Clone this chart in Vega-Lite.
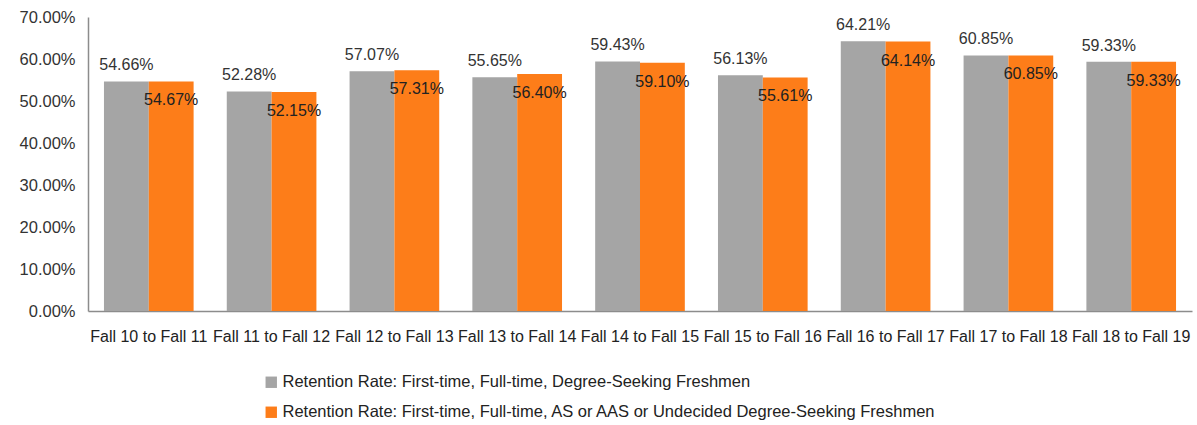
{
  "$schema": "https://vega.github.io/schema/vega-lite/v6.json",
  "width": 1104,
  "height": 294,
  "autosize": "none",
  "padding": {"left": 88, "top": 17, "right": 5, "bottom": 114},
  "background": "white",
  "config": {"view": {"stroke": null}, "font": "Liberation Sans"},
  "data": {"values": [
    {"period": "Fall 10 to Fall 11", "series": "Retention Rate: First-time, Full-time, Degree-Seeking Freshmen", "s": 1, "rate": 0.5466},
    {"period": "Fall 10 to Fall 11", "series": "Retention Rate: First-time, Full-time, AS or AAS or Undecided Degree-Seeking Freshmen", "s": 2, "rate": 0.5467},
    {"period": "Fall 11 to Fall 12", "series": "Retention Rate: First-time, Full-time, Degree-Seeking Freshmen", "s": 1, "rate": 0.5228},
    {"period": "Fall 11 to Fall 12", "series": "Retention Rate: First-time, Full-time, AS or AAS or Undecided Degree-Seeking Freshmen", "s": 2, "rate": 0.5215},
    {"period": "Fall 12 to Fall 13", "series": "Retention Rate: First-time, Full-time, Degree-Seeking Freshmen", "s": 1, "rate": 0.5707},
    {"period": "Fall 12 to Fall 13", "series": "Retention Rate: First-time, Full-time, AS or AAS or Undecided Degree-Seeking Freshmen", "s": 2, "rate": 0.5731},
    {"period": "Fall 13 to Fall 14", "series": "Retention Rate: First-time, Full-time, Degree-Seeking Freshmen", "s": 1, "rate": 0.5565},
    {"period": "Fall 13 to Fall 14", "series": "Retention Rate: First-time, Full-time, AS or AAS or Undecided Degree-Seeking Freshmen", "s": 2, "rate": 0.5640},
    {"period": "Fall 14 to Fall 15", "series": "Retention Rate: First-time, Full-time, Degree-Seeking Freshmen", "s": 1, "rate": 0.5943},
    {"period": "Fall 14 to Fall 15", "series": "Retention Rate: First-time, Full-time, AS or AAS or Undecided Degree-Seeking Freshmen", "s": 2, "rate": 0.5910},
    {"period": "Fall 15 to Fall 16", "series": "Retention Rate: First-time, Full-time, Degree-Seeking Freshmen", "s": 1, "rate": 0.5613},
    {"period": "Fall 15 to Fall 16", "series": "Retention Rate: First-time, Full-time, AS or AAS or Undecided Degree-Seeking Freshmen", "s": 2, "rate": 0.5561},
    {"period": "Fall 16 to Fall 17", "series": "Retention Rate: First-time, Full-time, Degree-Seeking Freshmen", "s": 1, "rate": 0.6421},
    {"period": "Fall 16 to Fall 17", "series": "Retention Rate: First-time, Full-time, AS or AAS or Undecided Degree-Seeking Freshmen", "s": 2, "rate": 0.6414},
    {"period": "Fall 17 to Fall 18", "series": "Retention Rate: First-time, Full-time, Degree-Seeking Freshmen", "s": 1, "rate": 0.6085},
    {"period": "Fall 17 to Fall 18", "series": "Retention Rate: First-time, Full-time, AS or AAS or Undecided Degree-Seeking Freshmen", "s": 2, "rate": 0.6085},
    {"period": "Fall 18 to Fall 19", "series": "Retention Rate: First-time, Full-time, Degree-Seeking Freshmen", "s": 1, "rate": 0.5933},
    {"period": "Fall 18 to Fall 19", "series": "Retention Rate: First-time, Full-time, AS or AAS or Undecided Degree-Seeking Freshmen", "s": 2, "rate": 0.5933}
  ]},
  "encoding": {
    "x": {"field": "period", "type": "nominal", "sort": null, "title": null,
      "scale": {"paddingInner": 0.27, "paddingOuter": 0.13},
      "axis": {"labelAngle": 0, "ticks": false, "labelFontSize": 16, "labelColor": "#222222", "labelPadding": 17, "domainColor": "#8c8c8c", "domainWidth": 1.5, "labelLimit": 200}},
    "xOffset": {"field": "s", "type": "ordinal"},
    "y": {"field": "rate", "type": "quantitative", "title": null,
      "scale": {"domain": [0, 0.7]},
      "axis": {"format": ".2%", "values": [0, 0.1, 0.2, 0.3, 0.4, 0.5, 0.6, 0.7], "grid": false, "ticks": false, "labelFontSize": 16.5, "labelColor": "#333333", "labelPadding": 13, "domainColor": "#8c8c8c", "domainWidth": 1.5}}
  },
  "layer": [
    {"mark": {"type": "bar"},
     "encoding": {
       "color": {"field": "series", "type": "nominal", "sort": null,
         "scale": {"domain": ["Retention Rate: First-time, Full-time, Degree-Seeking Freshmen", "Retention Rate: First-time, Full-time, AS or AAS or Undecided Degree-Seeking Freshmen"], "range": ["#A5A5A5", "#FD7D19"]},
         "legend": {"title": null, "orient": "none", "legendX": 175, "legendY": 357, "direction": "vertical", "symbolType": "square", "symbolSize": 130, "symbolStrokeWidth": 0, "labelFontSize": 16.5, "labelColor": "#222222", "rowPadding": 13, "labelLimit": 900, "labelOffset": 3}}
     }},
    {"transform": [{"filter": "datum.s == 1"}],
     "mark": {"type": "text", "baseline": "bottom", "dy": -8, "fontSize": 16, "color": "#333333"},
     "encoding": {"text": {"field": "rate", "format": ".2%"}}},
    {"transform": [{"filter": "datum.s == 2"}],
     "mark": {"type": "text", "baseline": "top", "dy": 11, "fontSize": 16, "color": "#222222"},
     "encoding": {"text": {"field": "rate", "format": ".2%"}}}
  ]
}
